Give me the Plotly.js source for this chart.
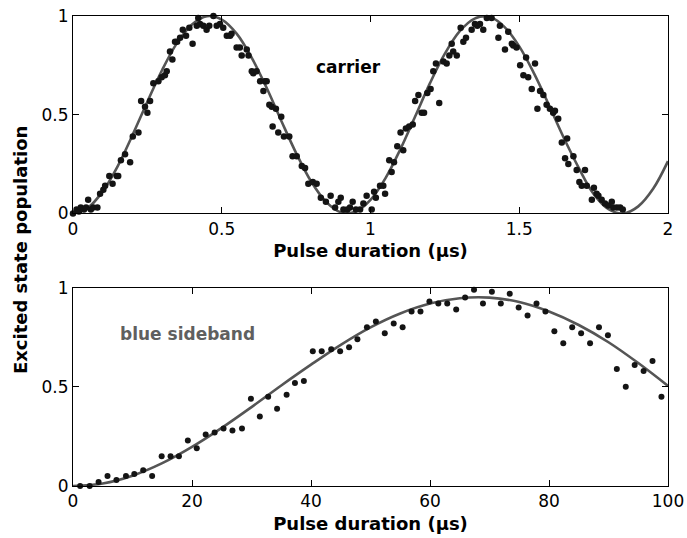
<!DOCTYPE html>
<html>
<head>
<meta charset="utf-8">
<script src="https://cdn.plot.ly/plotly-3.0.1.min.js"></script>
<style>html,body{margin:0;padding:0;background:#fff;}#chart{width:687px;height:538px;}</style>
</head>
<body>
<div id="chart"></div>
<script>
// ---- carrier (top panel) measured points ----
var topX = [
0.000,0.012,0.020,0.026,0.037,0.044,0.051,0.060,0.068,0.082,
0.091,0.102,0.108,0.122,0.133,0.147,0.152,0.161,0.175,0.192,
0.201,0.220,0.229,0.242,0.250,0.259,0.270,0.287,0.298,0.309,
0.315,0.326,0.334,0.343,0.350,0.360,0.369,0.380,0.391,0.402,
0.416,0.421,0.427,0.438,0.449,0.458,0.472,0.483,0.494,0.505,
0.517,0.528,0.533,0.550,0.561,0.567,0.584,0.590,0.601,0.606,
0.617,0.629,0.640,0.645,0.651,0.660,0.668,0.671,0.682,0.690,
0.700,0.709,0.727,0.738,0.752,0.769,0.780,0.791,0.806,0.819,
0.833,0.850,0.866,0.881,0.892,0.900,0.909,0.922,0.931,0.940,
0.951,0.965,0.976,0.987,1.004,1.012,1.018,1.032,1.043,1.049,
1.063,1.071,1.079,1.090,1.101,1.110,1.119,1.130,1.142,1.150,
1.161,1.172,1.180,1.191,1.202,1.211,1.220,1.231,1.245,1.256,
1.265,1.273,1.278,1.290,1.303,1.312,1.321,1.340,1.351,1.359,
1.368,1.379,1.391,1.407,1.430,1.435,1.452,1.463,1.475,1.480,
1.491,1.503,1.514,1.523,1.530,1.542,1.553,1.561,1.570,1.581,
1.592,1.603,1.614,1.620,1.631,1.643,1.654,1.661,1.665,1.682,
1.693,1.702,1.710,1.721,1.727,1.744,1.751,1.760,1.766,1.777,
1.788,1.799,1.811,1.816,1.828,1.839,1.848];
var topY = [
0.00,0.02,0.01,0.03,0.02,0.03,0.07,0.02,0.03,0.03,
0.10,0.12,0.14,0.19,0.15,0.19,0.19,0.27,0.30,0.26,
0.39,0.41,0.57,0.54,0.51,0.57,0.66,0.67,0.69,0.70,
0.72,0.82,0.78,0.87,0.87,0.89,0.93,0.90,0.94,0.86,
0.95,0.99,0.96,0.95,0.93,0.95,1.00,0.95,0.96,0.94,
0.90,0.90,0.91,0.84,0.84,0.80,0.83,0.80,0.72,0.71,
0.72,0.67,0.62,0.67,0.67,0.55,0.54,0.44,0.53,0.41,
0.49,0.39,0.39,0.29,0.29,0.24,0.23,0.15,0.16,0.15,
0.08,0.06,0.09,0.03,0.06,0.08,0.02,0.02,0.03,0.06,
0.02,0.02,0.05,0.09,0.02,0.11,0.08,0.14,0.14,0.10,
0.27,0.21,0.26,0.34,0.41,0.32,0.43,0.44,0.45,0.57,
0.60,0.51,0.51,0.61,0.63,0.72,0.76,0.56,0.77,0.76,
0.80,0.86,0.82,0.80,0.94,0.87,0.89,0.93,0.96,0.95,
0.96,0.93,0.99,0.99,0.89,0.95,0.83,0.92,0.86,0.85,
0.84,0.75,0.70,0.79,0.69,0.63,0.76,0.53,0.62,0.60,
0.55,0.53,0.51,0.52,0.48,0.36,0.28,0.38,0.25,0.29,
0.22,0.16,0.14,0.22,0.14,0.07,0.13,0.10,0.09,0.07,
0.05,0.04,0.06,0.03,0.03,0.03,0.02];

// ---- carrier fit curve ----
var fitTopX = [0,0.05,0.10,0.15,0.20,0.25,0.30,0.35,0.40,0.45,0.50,0.55,0.60,0.65,0.70,0.75,0.80,0.85,0.90,0.95,
               1.00,1.05,1.10,1.15,1.20,1.25,1.30,1.35,1.40,1.45,1.50,1.55,1.60,1.65,1.70,1.75,1.80,1.85,1.90,1.95,2.00];
var fitTopY = [0,0.029,0.112,0.239,0.397,0.566,0.728,0.864,0.957,0.999,0.982,0.911,0.791,0.639,0.470,0.306,0.163,0.060,0.006,0.009,
               0.069,0.178,0.324,0.491,0.660,0.809,0.923,0.987,0.996,0.945,0.846,0.708,0.548,0.382,0.231,0.099,0.022,0.000,0.036,0.125,0.265];

// ---- blue sideband (bottom panel) measured points ----
var botX = [1.2,2.8,4.3,5.8,7.3,8.9,10.3,11.8,13.3,14.9,16.4,17.8,19.3,20.8,22.3,23.8,25.3,26.8,28.4,29.9,
            31.4,32.8,34.3,35.9,37.3,38.8,40.3,41.8,43.4,44.9,46.4,47.8,49.4,50.9,52.4,53.9,55.4,56.9,58.4,59.9,
            61.4,62.9,64.4,65.9,67.4,68.9,70.4,71.9,73.4,74.9,76.4,77.9,79.4,80.9,82.4,83.9,85.4,86.9,88.4,89.9,
            91.4,92.9,94.4,95.9,97.4,98.9];
var botY = [0,0,0.02,0.05,0.03,0.05,0.06,0.08,0.05,0.15,0.15,0.15,0.23,0.19,0.26,0.27,0.29,0.28,0.29,0.44,
            0.35,0.45,0.39,0.46,0.52,0.53,0.68,0.68,0.69,0.68,0.70,0.74,0.80,0.83,0.77,0.82,0.80,0.88,0.88,0.93,
            0.92,0.92,0.89,0.95,0.99,0.92,0.98,0.92,0.97,0.90,0.86,0.92,0.88,0.78,0.72,0.80,0.77,0.72,0.80,0.76,
            0.59,0.50,0.61,0.58,0.63,0.45];

// ---- blue sideband fit curve ----
var fitBotX = [0,5,10,15,20,25,30,35,40,45,50,55,60,65,70,75,80,85,90,95,100];
var fitBotY = [0,0.013,0.052,0.115,0.197,0.293,0.398,0.507,0.612,0.712,0.800,0.870,0.920,0.947,0.950,0.928,0.880,0.812,0.725,0.620,0.505];

var topTicks = [0,0.5,1,1.5,2];
var botTicks = [0,20,40,60,80,100];
var yTicks = [0,0.5,1];
var xTitle = 'Pulse duration (µs)';
var yTitle = 'Excited state population';

var lineCol = '#555555';
var dotCol = '#141414';

var traces = [
  {x: fitTopX, y: fitTopY, xaxis:'x', yaxis:'y', mode:'lines', line:{color:lineCol, width:2.6, shape:'spline', smoothing:1}, hoverinfo:'skip'},
  {x: topX, y: topY, xaxis:'x', yaxis:'y', mode:'markers', marker:{color:dotCol, size:6.5}, cliponaxis:false},
  {x: fitBotX, y: fitBotY, xaxis:'x2', yaxis:'y2', mode:'lines', line:{color:lineCol, width:2.6, shape:'spline', smoothing:1}, hoverinfo:'skip'},
  {x: botX, y: botY, xaxis:'x2', yaxis:'y2', mode:'markers', marker:{color:dotCol, size:6}, cliponaxis:false}
];

function ax(extra){
  var base = {ticks:'inside', ticklen:6, tickwidth:1, tickcolor:'#000', showline:true, mirror:'ticks',
    linecolor:'#000', linewidth:1, showgrid:false, zeroline:false,
    tickfont:{family:'DejaVu Sans', size:17, color:'#000'}};
  for (var k in extra) base[k] = extra[k];
  return base;
}

var layout = {
  width:687, height:538,
  margin:{l:73, r:19, t:16, b:52},
  paper_bgcolor:'#fff', plot_bgcolor:'#fff',
  showlegend:false,
  font:{family:'DejaVu Sans', size:17, color:'#000'},
  xaxis: ax({domain:[0,1], anchor:'y', range:[0,2], tickmode:'array', tickvals:topTicks,
             title:{text:'<b>'+xTitle+'</b>', font:{family:'DejaVu Sans', size:18, color:'#000'}, standoff:6}}),
  yaxis: ax({domain:[0.5798,1], anchor:'x', range:[0,1], tickmode:'array', tickvals:yTicks}),
  xaxis2: ax({domain:[0,1], anchor:'y2', range:[0,100], tickmode:'array', tickvals:botTicks,
             title:{text:'<b>'+xTitle+'</b>', font:{family:'DejaVu Sans', size:18, color:'#000'}, standoff:6}}),
  yaxis2: ax({domain:[0,0.4219], anchor:'x2', range:[0,1], tickmode:'array', tickvals:yTicks}),
  annotations:[
    {text:'<b>carrier</b>', xref:'x', yref:'y', x:0.927, y:0.74, showarrow:false,
     font:{family:'DejaVu Sans', size:17, color:'#000'}},
    {text:'<b>blue sideband</b>', xref:'x2', yref:'y2', x:19.2, y:0.765, showarrow:false,
     font:{family:'DejaVu Sans', size:17, color:'#5f5f5f'}},
    {text:'<b>'+yTitle+'</b>', xref:'paper', yref:'paper', x:-0.089, y:0.502, textangle:-90, showarrow:false,
     xanchor:'center', yanchor:'middle', font:{family:'DejaVu Sans', size:18, color:'#000'}}
  ]
};

Plotly.newPlot('chart', traces, layout, {displayModeBar:false, staticPlot:true});
</script>
</body>
</html>
